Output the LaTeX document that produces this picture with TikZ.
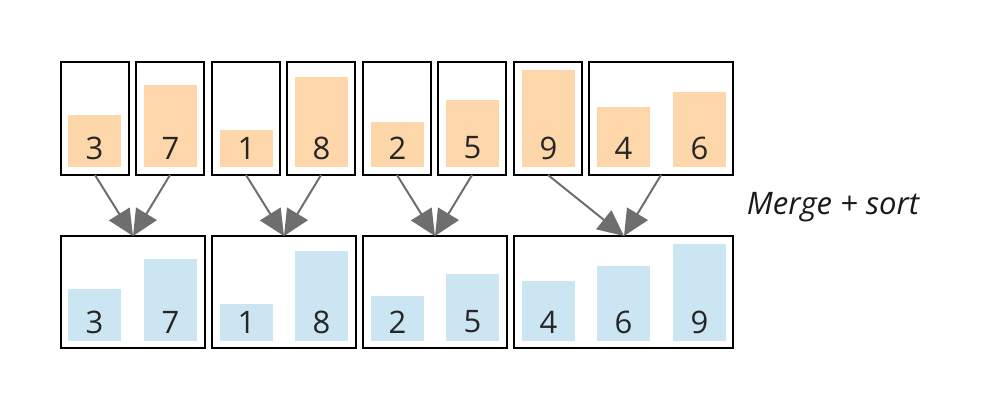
\documentclass[tikz,border=0pt]{standalone}
\usepackage{fontspec}
\setmainfont{Open Sans}
\usetikzlibrary{arrows.meta}
\definecolor{org}{HTML}{FDD7AA}
\definecolor{blu}{HTML}{CCE5F3}
\definecolor{arrg}{HTML}{6E6E6E}
\begin{document}
\begin{tikzpicture}[x=1pt,y=-1pt,
  box/.style={draw=black,line width=1.5pt},
  num/.style={font=\fontsize{31}{36}\selectfont,text=black!85},
  arr/.style={draw=arrg,line width=2pt,-{Triangle[length=26pt,width=24pt]}}]
\useasboundingbox (0,0) rectangle (982,410);
\newcommand{\tbar}[2]{\fill[org] (#1,167) rectangle (#1+53,{167-30-7.5*#2});
  \node[num] at (#1+26.5,148) {#2};}
\newcommand{\bbar}[2]{\fill[blu] (#1,341) rectangle (#1+53,{341-30-7.5*#2});
  \node[num] at (#1+26.5,322) {#2};}
\tbar{68}{3}\tbar{144}{7}\tbar{220}{1}\tbar{295}{8}
\tbar{371}{2}\tbar{446}{5}\tbar{522}{9}\tbar{597}{4}\tbar{673}{6}
\bbar{68}{3}\bbar{144}{7}\bbar{220}{1}\bbar{295}{8}
\bbar{371}{2}\bbar{446}{5}\bbar{522}{4}\bbar{597}{6}\bbar{673}{9}
\draw[box] (61,62) rectangle (129,175); \coordinate (a1) at (95,175);
\draw[box] (136,62) rectangle (204,175); \coordinate (a2) at (170,175);
\draw[box] (212,62) rectangle (280,175); \coordinate (a3) at (246,175);
\draw[box] (287,62) rectangle (355,175); \coordinate (a4) at (321,175);
\draw[box] (363,62) rectangle (431,175); \coordinate (a5) at (397,175);
\draw[box] (438,62) rectangle (506,175); \coordinate (a6) at (472,175);
\draw[box] (514,62) rectangle (582,175); \coordinate (a7) at (548,175);
\draw[box] (589,62) rectangle (733,175); \coordinate (a8) at (661,175);
\draw[box] (61,236) rectangle (205,348); \coordinate (b1) at (133,236);
\draw[box] (212,236) rectangle (356,348); \coordinate (b2) at (284,236);
\draw[box] (363,236) rectangle (507,348); \coordinate (b3) at (435,236);
\draw[box] (514,236) rectangle (733,348); \coordinate (b4) at (624,236);
\draw[arr] (a1) -- (b1); \draw[arr] (a2) -- (b1);
\draw[arr] (a3) -- (b2); \draw[arr] (a4) -- (b2);
\draw[arr] (a5) -- (b3); \draw[arr] (a6) -- (b3);
\draw[arr] (a7) -- (b4); \draw[arr] (a8) -- (b4);
\node[font=\fontsize{31}{36}\selectfont\itshape,text=black!90] (lbl) at (833,207) {Merge + sort};
\end{tikzpicture}
\end{document}
